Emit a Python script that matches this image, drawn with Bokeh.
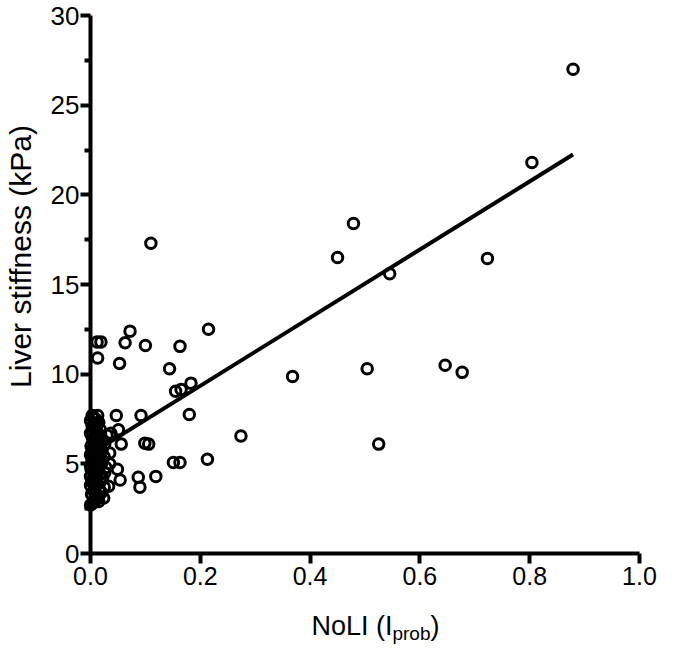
import math
from bokeh.plotting import figure
from bokeh.models import FixedTicker, PrintfTickFormatter, ColumnDataSource, Range1d
from bokeh.core.properties import value
from bokeh.embed import file_html
from bokeh.resources import INLINE

# NoLI (I_prob) values
noli = [
    0.000, 0.005, 0.010, 0.002, 0.015, 0.020, 0.008, 0.000, 0.012, 0.025,
    0.003, 0.018, 0.000, 0.010, 0.022, 0.005, 0.015, 0.000, 0.008, 0.020,
    0.003, 0.012, 0.000, 0.025, 0.006, 0.016, 0.001, 0.010, 0.020, 0.004,
    0.014, 0.000, 0.008, 0.018, 0.003, 0.012, 0.000, 0.006, 0.013, 0.030,
    0.028, 0.024, 0.015,
    0.004, 0.012, 0.006, 0.016, 0.002, 0.009, 0.013, 0.001, 0.018, 0.007,
    0.011, 0.017, 0.002, 0.009, 0.021, 0.005, 0.013, 0.008, 0.017, 0.002,
    0.011, 0.006, 0.015, 0.009, 0.003,
    0.012, 0.019, 0.013, 0.053, 0.063, 0.072, 0.100, 0.110, 0.163, 0.144,
    0.155, 0.165, 0.183, 0.180, 0.215, 0.047, 0.092, 0.051, 0.056, 0.099,
    0.035, 0.035, 0.049, 0.054, 0.087, 0.090, 0.119, 0.033, 0.026, 0.026,
    0.037, 0.151, 0.163, 0.213, 0.274, 0.368, 0.450, 0.479, 0.504, 0.525,
    0.545, 0.646, 0.677, 0.723, 0.804, 0.879, 0.106,
]
# Liver stiffness (kPa)
stiffness = [
    2.7, 2.9, 3.0, 3.3, 3.2, 3.4, 3.6, 3.8, 3.9, 3.7,
    4.1, 4.0, 4.3, 4.4, 4.2, 4.6, 4.7, 4.9, 5.0, 5.0,
    5.2, 5.3, 5.5, 5.4, 5.7, 5.8, 6.0, 6.1, 6.2, 6.4,
    6.5, 6.7, 6.8, 6.9, 7.1, 7.2, 7.4, 7.6, 7.7, 6.6,
    4.8, 3.1, 2.9,
    2.8, 3.1, 3.5, 3.6, 4.0, 4.2, 4.5, 4.7, 4.4, 4.8,
    5.1, 5.3, 5.6, 5.6, 5.7, 5.9, 6.0, 6.3, 6.4, 6.6,
    6.9, 7.0, 7.3, 7.5, 7.7,
    11.8, 11.8, 10.9, 10.6, 11.75, 12.4, 11.6, 17.3, 11.55, 10.3,
    9.05, 9.15, 9.5, 7.75, 12.5, 7.7, 7.7, 6.9, 6.1, 6.15,
    5.6, 5.0, 4.7, 4.1, 4.25, 3.7, 4.3, 3.75, 4.5, 6.1,
    6.7, 5.07, 5.07, 5.25, 6.55, 9.87, 16.5, 18.4, 10.3, 6.1,
    15.6, 10.5, 10.1, 16.45, 21.8, 27.0, 6.1,
]
fit_slope = 19.0
fit_intercept = 5.55

x_ticks = [0.0, 0.2, 0.4, 0.6, 0.8, 1.0]
y_ticks = [0, 5, 10, 15, 20, 25, 30]
y_minor = [2.5, 7.5, 12.5, 17.5, 22.5, 27.5]

x_title_parts = ["NoLI (I", "prob", ")"]
y_title = "Liver stiffness (kPa)"

FONT = "Liberation Sans"

p = figure(width=657, height=648, output_backend="svg", toolbar_location=None,
           x_range=Range1d(0.0, 1.0), y_range=Range1d(0, 30),
           min_border_left=90, min_border_right=18, min_border_top=15, min_border_bottom=95)
p.outline_line_color = None
p.xgrid.visible = False
p.ygrid.visible = False
p.background_fill_color = "white"
p.border_fill_color = "white"

x0, x1 = 0.0, max(noli)
p.line([x0, x1], [fit_intercept + fit_slope * x0, fit_intercept + fit_slope * x1],
       line_color="black", line_width=4)

src = ColumnDataSource(dict(x=noli, y=stiffness))
p.scatter("x", "y", source=src, marker="circle", size=10.5, fill_color=None,
          line_color="black", line_width=3, level="overlay")

for ax in (p.xaxis[0], p.yaxis[0]):
    ax.axis_line_width = 4
    ax.axis_line_color = "black"
    ax.major_tick_line_width = 4
    ax.minor_tick_line_width = 4
    ax.major_tick_in = 0
    ax.minor_tick_in = 0
    ax.major_tick_out = 10
    ax.minor_tick_out = 6
    ax.major_label_text_font = FONT
    ax.major_label_text_color = "black"
    ax.axis_label = None

p.xaxis[0].ticker = FixedTicker(ticks=x_ticks, minor_ticks=[])
p.xaxis[0].formatter = PrintfTickFormatter(format="%.1f")
p.xaxis[0].major_label_standoff = 3
p.xaxis[0].major_label_text_font_size = "25px"

p.yaxis[0].ticker = FixedTicker(ticks=y_ticks, minor_ticks=y_minor)
p.yaxis[0].formatter = PrintfTickFormatter(format="%d")
p.yaxis[0].major_label_standoff = 1
p.yaxis[0].major_label_text_font_size = "26px"

# y-axis title (text glyph drawn outside the frame)
p.text(x=[-0.128], y=[16.56], text=[y_title], angle=math.pi / 2,
       text_align="center", text_baseline="middle",
       text_font=value(FONT), text_font_size=value("30px"), text_color="black",
       level="overlay")

# x-axis title with subscript
FT = 27
fs_sub = 19
w1 = 3.001 * FT
w2 = 2.001 * fs_sub
w3 = 0.333 * FT
wt = w1 + w2 + w3
xc, yb = 0.519, -4.07
offsets = [-wt / 2, -wt / 2 + w1, -wt / 2 + w1 + w2]
sizes = [FT, fs_sub, FT]
yoffs = [0, 7, 0]
for part, xo, fs, yo in zip(x_title_parts, offsets, sizes, yoffs):
    p.text(x=[xc], y=[yb], text=[part], x_offset=xo, y_offset=yo,
           text_align="left", text_baseline="alphabetic",
           text_font=value(FONT), text_font_size=value(f"{fs}px"), text_color="black",
           level="overlay")

open("out.html", "w").write(file_html(p, INLINE))
